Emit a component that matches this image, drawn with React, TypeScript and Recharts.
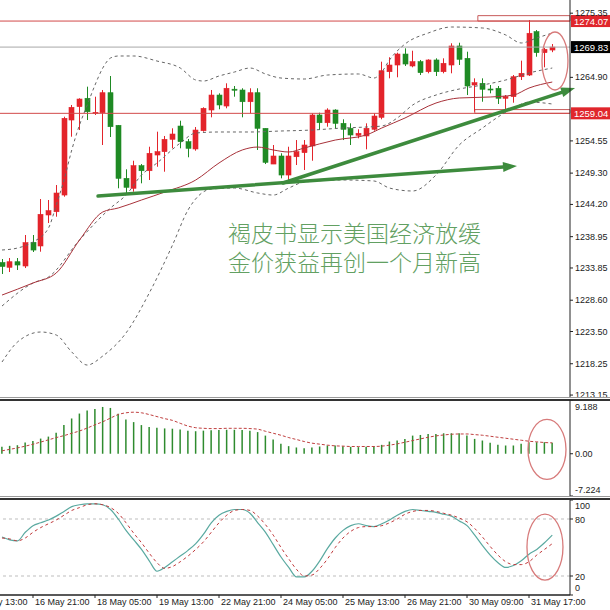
import React from 'react';
import {
  ComposedChart,
  Bar,
  Line,
  XAxis,
  YAxis,
  ReferenceLine,
  ReferenceArea,
  ReferenceDot,
} from 'recharts';

// XAUUSD H4 candles, index 0 = first visible bar on the left
const opens = [
  1234.74, 1233.96, 1234.87, 1234.17, 1238.03, 1237.43, 1242.48, 1243.01, 1245.73, 1257.95,
  1260.12, 1261.49, 1259.1, 1259.14, 1262.4, 1257.09, 1248.45, 1246.83, 1250.51, 1249.69,
  1252.25, 1252.79, 1254.81, 1256.97, 1254.42, 1253.23, 1256.21, 1259.58, 1262.02, 1260.23,
  1262.97, 1262.84, 1260.93, 1262.4, 1256.6, 1250.78, 1252.09, 1248.99, 1251.97, 1252.63,
  1253.72, 1258.77, 1257.51, 1259.58, 1257.41, 1256.6, 1255.46, 1255.35, 1256.44, 1258.39,
  1265.82, 1266.91, 1268.7, 1266.75, 1267.45, 1265.82, 1267.73, 1265.82, 1266.91, 1270.01,
  1268.0, 1263.65, 1263.93, 1263.0, 1263.12, 1261.49, 1261.75, 1265.0, 1265.28, 1272.34,
  1268.92, 1269.35,
];
const highs = [
  1235.31, 1235.47, 1235.47, 1239.22, 1239.22, 1245.08, 1244.92, 1247.36, 1258.49, 1260.4,
  1261.49, 1263.38, 1261.75, 1262.84, 1265.12, 1257.14, 1249.92, 1251.32, 1250.78, 1253.6,
  1256.05, 1255.35, 1256.6, 1257.84, 1254.86, 1256.81, 1260.02, 1262.84, 1262.3, 1263.93,
  1263.49, 1263.12, 1263.12, 1263.12, 1256.6, 1253.88, 1252.53, 1253.6, 1254.69, 1254.69,
  1259.04, 1259.14, 1259.86, 1259.7, 1258.07, 1257.41, 1256.44, 1257.41, 1259.04, 1267.45,
  1268.17, 1268.92, 1269.63, 1269.24, 1267.73, 1267.84, 1268.0, 1268.0, 1270.45, 1270.54,
  1269.08, 1264.74, 1264.74, 1263.65, 1263.49, 1262.02, 1265.28, 1267.62, 1274.24, 1272.61,
  1269.68, 1270.33,
];
const lows = [
  1232.87, 1233.19, 1233.52, 1233.84, 1236.45, 1236.5, 1241.17, 1242.2, 1245.46, 1255.23,
  1256.32, 1257.95, 1258.77, 1253.88, 1255.18, 1246.83, 1246.01, 1246.27, 1247.64, 1248.18,
  1250.34, 1249.53, 1253.34, 1253.34, 1251.88, 1252.95, 1256.05, 1258.39, 1259.7, 1259.86,
  1261.75, 1258.39, 1259.04, 1253.07, 1250.78, 1250.78, 1248.45, 1248.18, 1250.62, 1249.81,
  1251.32, 1256.32, 1256.86, 1256.6, 1254.69, 1253.88, 1254.97, 1253.18, 1256.21, 1258.07,
  1264.74, 1264.91, 1266.75, 1266.54, 1265.28, 1265.56, 1265.12, 1265.56, 1265.56, 1266.91,
  1262.02, 1259.3, 1260.93, 1262.3, 1260.56, 1259.7, 1260.77, 1264.47, 1265.12, 1268.26,
  1266.54, 1269.0,
];
const closes = [
  1234.09, 1234.87, 1234.33, 1237.97, 1236.77, 1242.59, 1243.18, 1246.06, 1258.23, 1260.02,
  1261.37, 1259.3, 1259.2, 1262.4, 1256.86, 1248.45, 1246.99, 1250.51, 1249.69, 1252.53,
  1252.79, 1254.81, 1255.67, 1254.42, 1253.34, 1256.32, 1259.86, 1262.02, 1260.4, 1263.12,
  1262.8, 1260.93, 1262.4, 1256.6, 1251.06, 1252.09, 1248.99, 1252.09, 1252.79, 1253.88,
  1258.77, 1257.51, 1259.58, 1257.41, 1256.44, 1255.51, 1255.79, 1256.6, 1258.6, 1265.98,
  1266.91, 1268.7, 1267.07, 1267.45, 1265.66, 1267.73, 1265.82, 1267.19, 1270.01, 1267.84,
  1263.49, 1264.03, 1262.96, 1262.95, 1261.49, 1261.75, 1265.0, 1265.56, 1272.08, 1268.92,
  1269.47, 1269.83,
];

// bollinger bands + red moving average, read as [barIndex, price]
const upperPts = [
  [0, 1236.78], [2, 1237.1], [4, 1238.08], [6, 1240.36], [7, 1244.1], [8, 1248.18],
  [9, 1253.07], [10, 1257.14], [11, 1260.4], [12, 1263.65], [13, 1266.42], [14, 1268.05],
  [15, 1268.38], [17, 1268.38], [20, 1267.56], [23, 1266.42], [25, 1264.47], [26, 1264.3],
  [28, 1265.12], [30, 1265.77], [32, 1266.42], [34, 1265.45], [36, 1264.79], [39, 1264.63],
  [42, 1265.28], [46, 1265.45], [48, 1264.79], [49, 1265.77], [50, 1267.73], [52, 1270.33],
  [55, 1272.12], [58, 1273.1], [62, 1272.94], [65, 1271.8], [67, 1270.5], [69, 1271.31],
  [71, 1272.12],
];
const midPts = [
  [0, 1227.65], [4, 1231.4], [6, 1232.38], [10, 1238.4], [14, 1243.62], [16, 1245.73],
  [18, 1248.99], [20, 1250.95], [23, 1254.2], [25, 1255.83], [28, 1256.0], [32, 1256.0],
  [36, 1256.16], [40, 1256.32], [44, 1256.65], [47, 1256.81], [49, 1256.97], [51, 1258.28],
  [53, 1260.4], [56, 1262.02], [59, 1263.0], [62, 1263.65], [65, 1264.47], [68, 1265.61],
  [71, 1266.42],
];
const lowerPts = [
  [0, 1218.53], [2, 1221.79], [5, 1223.42], [7, 1222.93], [9, 1220.16], [11, 1218.04],
  [13, 1219.51], [16, 1223.26], [19, 1229.77], [22, 1237.59], [24, 1243.29], [27, 1246.71],
  [30, 1246.87], [33, 1246.06], [35, 1245.73], [37, 1246.87], [39, 1247.85], [44, 1248.18],
  [48, 1248.02], [50, 1246.87], [53, 1246.39], [56, 1249.0], [59, 1253.88], [62, 1256.65],
  [64, 1258.44], [66, 1259.91], [68, 1260.88], [71, 1260.56],
];
const maPts = [
  [0, 1229.44], [4, 1231.4], [7, 1233.03], [10, 1238.4], [13, 1242.97], [15, 1243.62],
  [18, 1244.92], [21, 1246.22], [25, 1248.18], [28, 1250.95], [31, 1253.07], [33, 1253.55],
  [35, 1253.07], [37, 1252.74], [39, 1253.39], [43, 1254.69], [47, 1255.51], [49, 1256.65],
  [52, 1258.28], [56, 1260.72], [59, 1261.54], [63, 1261.7], [66, 1262.02], [68, 1263.16],
  [71, 1264.14],
];

const macdHist = [
  1.19, 1.35, 1.46, 1.91, 2.19, 2.59, 2.93, 3.6, 4.9, 6.03,
  6.87, 7.38, 7.66, 8.0, 7.83, 6.82, 5.86, 5.41, 4.9, 4.57,
  4.45, 4.33, 4.28, 4.16, 3.95, 3.85, 3.95, 4.0, 4.05, 4.1,
  4.1, 4.05, 3.95, 3.7, 3.1, 2.43, 1.69, 1.3, 1.07, 0.96,
  1.07, 1.24, 1.41, 1.41, 1.3, 1.18, 1.13, 1.18, 1.3, 1.52,
  2.09, 2.26, 2.54, 3.1, 3.21, 3.38, 3.38, 3.5, 3.5, 3.5,
  3.1, 2.54, 2.26, 1.86, 1.52, 1.41, 1.41, 1.69, 1.97, 1.97,
  1.97, 1.86,
];
const macdSignal = [
  0.5, 0.75, 1.0, 1.3, 1.63, 2.0, 2.38, 2.76, 3.1, 3.5,
  3.89, 4.4, 4.95, 5.47, 6.1, 6.7, 7.0, 7.1, 7.0, 6.7,
  6.35, 6.0, 5.7, 5.2, 4.73, 4.45, 4.35, 4.3, 4.3, 4.35,
  4.35, 4.35, 4.3, 4.2, 3.84, 3.5, 3.16, 2.76, 2.43, 2.09,
  1.81, 1.64, 1.47, 1.35, 1.3, 1.24, 1.24, 1.24, 1.24, 1.3,
  1.47, 1.69, 1.97, 2.26, 2.54, 2.82, 3.05, 3.21, 3.33, 3.38,
  3.38, 3.27, 3.16, 2.99, 2.82, 2.65, 2.48, 2.31, 2.14, 2.03,
  1.92, 1.86,
];

const stochK = [
  61, 58, 57, 66, 73, 76, 79, 83, 88, 93,
  95, 96, 96, 95, 90, 80, 68, 58, 48, 36,
  25, 29, 35, 41, 47, 54, 64, 76, 84, 88,
  90, 90, 86, 76, 66, 53, 40, 29, 19, 19,
  25, 36, 49, 60, 68, 73, 75, 73, 72, 75,
  79, 84, 88, 90, 89, 88, 87, 85, 83, 78,
  73, 63, 52, 42, 34, 29, 31, 36, 43, 48,
  55, 63,
];
const stochD = [
  60, 59, 57, 60, 66, 71, 75, 79, 84, 89,
  92, 95, 96, 95, 92, 86, 76, 65, 55, 44,
  34, 28, 30, 35, 41, 48, 56, 66, 76, 84,
  89, 90, 89, 83, 74, 63, 50, 38, 27, 20,
  21, 28, 38, 50, 60, 67, 71, 72, 72, 73,
  76, 80, 85, 88, 89, 89, 88, 86, 84, 81,
  77, 70, 61, 51, 42, 35, 32, 32, 35, 42,
  48, 54,
];

const priceTicks = [1275.35, 1264.9, 1254.55, 1249.3, 1244.2, 1238.95, 1233.85, 1228.6, 1223.5, 1218.25, 1213.15];
const macdTicks = [9.188, 0, -7.224];
const macdTickLabels = ['9.188', '0.00', '-7.224'];
const stochTicks = [100, 80, 20, 0];
const xTicks = [-4, 4, 12, 20, 28, 36, 44, 52, 60, 68];
const xTickLabels = [
  '15 May 13:00', '16 May 21:00', '18 May 05:00', '19 May 13:00', '22 May 21:00',
  '24 May 05:00', '25 May 13:00', '26 May 21:00', '30 May 09:00', '31 May 17:00',
];

const X_MIN = -0.26;
const X_MAX = 73.29;
const PRICE_DOMAIN = [1212.67, 1277.5];
const MACD_DOMAIN = [-7.224, 9.188];

const RED = '#e3242b';
const GREEN = '#1f8a24';
const AXIS_FONT = '"Liberation Sans", Arial, sans-serif';

const rows = opens.map((o, i) => ({
  i,
  o,
  h: highs[i],
  l: lows[i],
  c: closes[i],
  hl: [lows[i], highs[i]],
  macd: macdHist[i],
  macdSig: macdSignal[i],
  k: stochK[i],
  d: stochD[i],
}));

// each overlay line keeps its own sparse point list
const toSeries = (pts: number[][]) => pts.map(([i, v]) => ({ i, v }));
const upperData = toSeries(upperPts);
const midData = toSeries(midPts);
const lowerData = toSeries(lowerPts);
const maData = toSeries(maPts);

function Candle(props: any) {
  const { x, y, width, height, payload } = props;
  if (x == null || y == null) return null;
  const { o, c, h, l } = payload;
  const top = Math.min(y, y + height);
  const span = Math.abs(height);
  const ppu = h - l > 0 ? span / (h - l) : 0;
  const yO = top + (h - o) * ppu;
  const yC = top + (h - c) * ppu;
  const color = c >= o ? RED : GREEN;
  const cx = Math.round(x + width / 2) + 0.5;
  const bodyTop = Math.min(yO, yC);
  const bodyH = Math.max(1, Math.abs(yO - yC));
  return (
    <g>
      <line x1={cx} x2={cx} y1={top} y2={top + span} stroke={color} strokeWidth={1} />
      <rect x={cx - width / 2} y={bodyTop} width={width} height={bodyH} fill={color} stroke={color} strokeWidth={0.6} />
    </g>
  );
}

function PriceTick({ x, y, payload }: any) {
  return (
    <text x={x} y={y} dy={3} fontSize={9} fill="#222" fontFamily={AXIS_FONT}>
      {payload.value.toFixed(2)}
    </text>
  );
}

function MacdTick({ x, y, payload }: any) {
  const idx = macdTicks.indexOf(payload.value);
  const dy = idx === 0 ? 10 : idx === 2 ? -3 : 3.5;
  return (
    <text x={x} y={y} dy={dy} fontSize={9} fill="#222" fontFamily={AXIS_FONT}>
      {macdTickLabels[idx]}
    </text>
  );
}

function StochTick({ x, y, payload }: any) {
  const v = payload.value;
  const dy = v === 100 ? 9 : v === 0 ? -4 : 3.5;
  return (
    <text x={x} y={y} dy={dy} fontSize={9} fill="#222" fontFamily={AXIS_FONT}>
      {v}
    </text>
  );
}

function TimeTick({ x, y, payload }: any) {
  const idx = xTicks.indexOf(payload.value);
  return (
    <text x={x + 2} y={y} dy={6} fontSize={9} fill="#222" fontFamily={AXIS_FONT}>
      {xTickLabels[idx]}
    </text>
  );
}

function PriceTag({ viewBox, text, bg }: any) {
  if (!viewBox) return null;
  const x = viewBox.x + viewBox.width;
  const y = viewBox.y;
  return (
    <g>
      <rect x={x + 1} y={y - 6} width={40} height={12} fill={bg} />
      <text x={x + 4} y={y + 3.5} fontSize={9.5} fill="#fff" fontFamily={AXIS_FONT}>
        {text}
      </text>
    </g>
  );
}

function Arrow(props: any) {
  const { x1, y1, x2, y2 } = props;
  if (x1 == null) return null;
  const ang = Math.atan2(y2 - y1, x2 - x1);
  const len = 14;
  const half = 5;
  const bx = x2 - len * Math.cos(ang);
  const by = y2 - len * Math.sin(ang);
  const pts = [
    `${x2},${y2}`,
    `${bx + half * Math.sin(ang)},${by - half * Math.cos(ang)}`,
    `${bx - half * Math.sin(ang)},${by + half * Math.cos(ang)}`,
  ].join(' ');
  return (
    <g>
      <line x1={x1} y1={y1} x2={bx} y2={by} stroke="#3d8b3d" strokeWidth={3.5} strokeLinecap="round" />
      <polygon points={pts} fill="#3d8b3d" />
    </g>
  );
}

const ring = (rx: number, ry: number) => (p: any) =>
  p.cx == null ? null : (
    <ellipse cx={p.cx} cy={p.cy} rx={rx} ry={ry} fill="none" stroke="#d77a7a" strokeWidth={1.3} />
  );

const frameLine = (top: number, color: string, h: number) => (
  <div style={{ position: 'absolute', left: 0, top, width: 610, height: h, background: color }} />
);

export default function App() {
  return (
    <div style={{ position: 'relative', width: 610, height: 610, background: '#fff', overflow: 'hidden' }}>
      <style>{'body{margin:0}'}</style>

      {/* price pane */}
      <div style={{ position: 'absolute', left: 0, top: 0 }}>
        <ComposedChart width={610} height={398} data={rows} margin={{ top: 0, right: 0, bottom: 0, left: 0 }}>
          <XAxis dataKey="i" type="number" domain={[X_MIN, X_MAX]} allowDataOverflow hide />
          <YAxis
            orientation="right"
            width={40}
            domain={PRICE_DOMAIN}
            allowDataOverflow
            ticks={priceTicks}
            interval={0}
            tick={<PriceTick />}
            tickSize={3}
            tickMargin={2}
            axisLine={{ stroke: '#222' }}
            tickLine={{ stroke: '#222' }}
          />
          <ReferenceLine y={1274.07} stroke="#d24a4a" label={(p: any) => <PriceTag {...p} text="1274.07" bg="#e0262c" />} />
          <ReferenceLine y={1269.83} stroke="#a8a8a8" label={(p: any) => <PriceTag {...p} text="1269.83" bg="#000" />} />
          <ReferenceLine y={1259.04} stroke="#d24a4a" label={(p: any) => <PriceTag {...p} text="1259.04" bg="#e0262c" />} />
          <ReferenceArea x1={61.4} x2={X_MAX} y1={1274.07} y2={1274.95} fill="none" stroke="#c85a5a" strokeWidth={1} />
          <ReferenceArea x1={61.0} x2={X_MAX} y1={1259.04} y2={1259.65} fill="none" stroke="#c85a5a" strokeWidth={1} />

          <Line data={upperData} dataKey="v" type="monotone" dot={false} activeDot={false} stroke="#666" strokeWidth={1} strokeDasharray="3 3" isAnimationActive={false} />
          <Line data={midData} dataKey="v" type="monotone" dot={false} activeDot={false} stroke="#666" strokeWidth={1} strokeDasharray="3 3" isAnimationActive={false} />
          <Line data={lowerData} dataKey="v" type="monotone" dot={false} activeDot={false} stroke="#666" strokeWidth={1} strokeDasharray="3 3" isAnimationActive={false} />
          <Line data={maData} dataKey="v" type="monotone" dot={false} activeDot={false} stroke="#a8323a" strokeWidth={1} isAnimationActive={false} />

          <Bar dataKey="hl" barSize={5} shape={<Candle />} isAnimationActive={false} />

          <ReferenceLine
            segment={[{ x: 12.39, y: 1245.57 }, { x: 66.45, y: 1250.46 }]}
            ifOverflow="visible"
            shape={(p: any) => <Arrow {...p} />}
          />
          <ReferenceLine
            segment={[{ x: 36.26, y: 1247.69 }, { x: 73.94, y: 1263.16 }]}
            ifOverflow="visible"
            shape={(p: any) => <Arrow {...p} />}
          />
          <ReferenceDot x={71.35} y={1267.56} ifOverflow="visible" shape={ring(13, 29)} />
        </ComposedChart>
      </div>

      {/* news caption */}
      <div
        style={{
          position: 'absolute',
          left: 228,
          top: 218,
          fontFamily: '"Noto Sans CJK SC", sans-serif',
          fontSize: 23,
          lineHeight: '29px',
          color: '#62a062',
          fontWeight: 300,
          whiteSpace: 'nowrap',
        }}
      >
        <div>褐皮书显示美国经济放缓</div>
        <div>金价获益再创一个月新高</div>
      </div>

      {frameLine(397, '#9a9a9a', 1)}
      {frameLine(399, '#333', 1.5)}

      {/* MACD pane */}
      <div style={{ position: 'absolute', left: 0, top: 400 }}>
        <ComposedChart width={610} height={96} data={rows} margin={{ top: 0, right: 0, bottom: 0, left: 0 }}>
          <XAxis dataKey="i" type="number" domain={[X_MIN, X_MAX]} allowDataOverflow hide />
          <YAxis
            orientation="right"
            width={40}
            domain={MACD_DOMAIN}
            allowDataOverflow
            ticks={macdTicks}
            interval={0}
            tick={<MacdTick />}
            tickSize={3}
            tickMargin={2}
            axisLine={{ stroke: '#222' }}
            tickLine={{ stroke: '#222' }}
          />
          <Bar dataKey="macd" barSize={1.5} fill="#2e8b2e" isAnimationActive={false} />
          <Line dataKey="macdSig" type="monotone" dot={false} activeDot={false} stroke="#c04040" strokeWidth={1} strokeDasharray="3 2" isAnimationActive={false} />
          <ReferenceDot x={70.32} y={0.73} ifOverflow="visible" shape={ring(19, 30)} />
        </ComposedChart>
      </div>

      {frameLine(496, '#9a9a9a', 1)}
      {frameLine(498, '#333', 1.5)}

      {/* stochastic pane */}
      <div style={{ position: 'absolute', left: 0, top: 500 }}>
        <ComposedChart width={610} height={110} data={rows} margin={{ top: 0, right: 0, bottom: 0, left: 0 }}>
          <XAxis
            dataKey="i"
            type="number"
            domain={[X_MIN, X_MAX]}
            allowDataOverflow
            ticks={xTicks}
            interval={0}
            height={15}
            tick={<TimeTick />}
            tickSize={3}
            tickMargin={1}
            axisLine={{ stroke: '#222', strokeWidth: 1.5 }}
            tickLine={{ stroke: '#222' }}
          />
          <YAxis
            orientation="right"
            width={40}
            domain={[0, 100]}
            allowDataOverflow
            ticks={stochTicks}
            interval={0}
            tick={<StochTick />}
            tickSize={3}
            tickMargin={2}
            axisLine={{ stroke: '#222' }}
            tickLine={{ stroke: '#222' }}
          />
          <ReferenceLine y={80} stroke="#bdbdbd" strokeDasharray="3 3" />
          <ReferenceLine y={20} stroke="#bdbdbd" strokeDasharray="3 3" />
          <Line dataKey="k" type="monotone" dot={false} activeDot={false} stroke="#5aa9a0" strokeWidth={1.2} isAnimationActive={false} />
          <Line dataKey="d" type="monotone" dot={false} activeDot={false} stroke="#c0393b" strokeWidth={1} strokeDasharray="3 3" isAnimationActive={false} />
          <ReferenceDot x={70.06} y={50.5} ifOverflow="visible" shape={ring(18, 33)} />
        </ComposedChart>
      </div>
    </div>
  );
}
